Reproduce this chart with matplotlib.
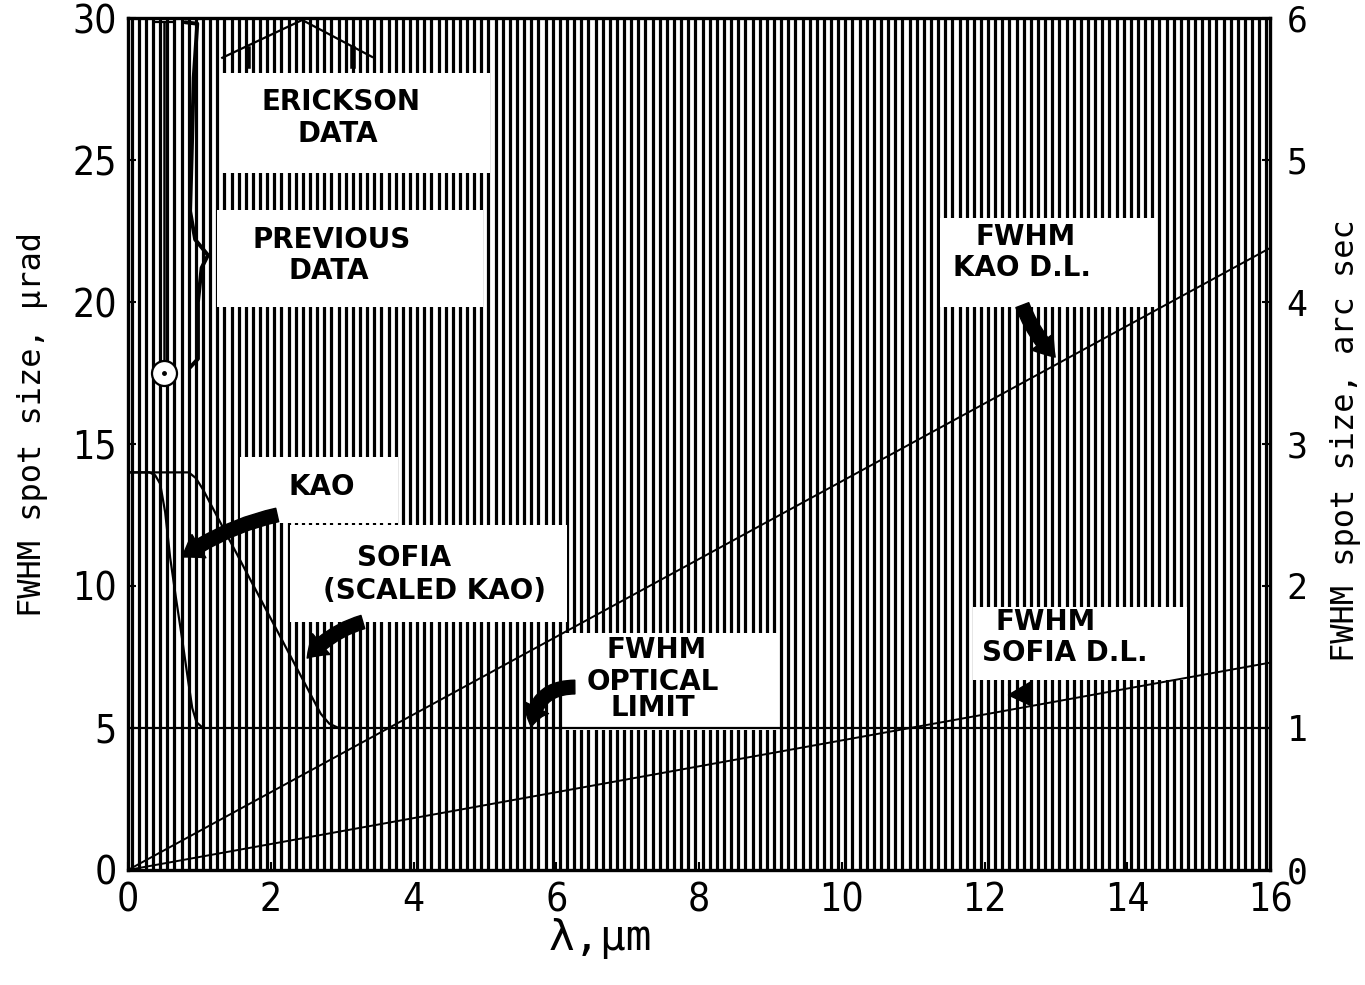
import numpy as np
import matplotlib
matplotlib.use("Agg")
import matplotlib.pyplot as plt
from matplotlib.patches import Rectangle

# diffraction limits (µrad) vs wavelength (µm)
dl_wavelength = [0, 16]
kao_dl = [0, 21.9]
sofia_dl = [0, 7.3]
optical_limit = 5.0

# measured KAO image size and SOFIA (scaled KAO)
kao_x = [0, 0.30, 0.38, 0.45, 0.52, 0.59, 0.67, 0.76, 0.84, 0.90, 0.96, 1.05]
kao_y = [14, 14, 13.9, 13.6, 12.6, 11.0, 9.6, 8.1, 6.7, 5.7, 5.2, 5.0]
sofia_x = [0, 0.85, 0.95, 1.05, 2.70, 2.82, 2.95, 3.05]
sofia_y = [14, 14, 13.8, 13.4, 5.5, 5.15, 5.0, 5.0]

# Erickson point with upper bar
erickson_x = 0.5
erickson_y = 17.5
erickson_top = 29.85

# annotation shapes
brace_x = [0.80, 0.97, 0.92, 0.89, 0.87, 0.94, 1.12, 1.03, 0.98, 0.98, 0.87]
brace_y = [29.85, 29.8, 27.9, 25.0, 23.2, 22.2, 21.65, 21.2, 20.0, 18.0, 17.7]
span_x = [1.32, 2.44, 3.42]
span_y = [28.6, 29.93, 28.63]
span_marks = [1.68, 3.15]

# label boxes: (x0, y0, x1, y1)
boxes = [
    (1.29, 24.54, 5.07, 28.06),
    (1.25, 19.82, 4.97, 23.24),
    (1.57, 12.22, 3.78, 14.54),
    (2.27, 8.73, 6.15, 12.15),
    (6.09, 4.93, 9.09, 8.35),
    (11.38, 19.82, 14.42, 22.96),
    (11.84, 6.69, 14.84, 9.26),
]
labels = [
    ("ERICKSON", 2.98, 27.06, "center"),
    ("DATA", 2.94, 25.9, "center"),
    ("PREVIOUS", 2.85, 22.18, "center"),
    ("DATA", 2.82, 21.09, "center"),
    ("KAO", 2.72, 13.49, "center"),
    ("SOFIA", 3.87, 10.97, "center"),
    ("(SCALED KAO)", 4.29, 9.82, "center"),
    ("FWHM", 7.40, 7.75, "center"),
    ("OPTICAL", 7.35, 6.62, "center"),
    ("LIMIT", 7.35, 5.70, "center"),
    ("FWHM", 11.87, 22.29, "left"),
    ("KAO D.L.", 11.56, 21.20, "left"),
    ("FWHM", 12.15, 8.73, "left"),
    ("SOFIA D.L.", 11.96, 7.64, "left"),
]
# arrows: (tail, head, curvature)
arrows = [
    ((2.09, 12.5), (0.76, 11.02), 0.1),
    ((3.29, 8.73), (2.51, 7.46), 0.15),
    ((6.26, 6.44), (5.65, 5.04), 0.45),
    ((12.53, 19.89), (12.99, 18.06), 0.1),
    ((12.50, 6.40), (12.64, 5.80), 0.0),
]

fig = plt.figure(figsize=(13.65, 9.85), dpi=100)
ax = fig.add_axes([0.0938, 0.1168, 0.8366, 0.8649])
ax.set_xlim(0, 16)
ax.set_ylim(0, 30)

# chart paper rulings
ax.vlines(np.arange(0.05, 16, 0.1), 0, 30, color="black", lw=2.3, zorder=1)

for x0, y0, x1, y1 in boxes:
    ax.add_patch(Rectangle((x0, y0), x1 - x0, y1 - y0, fc="white", ec="none", zorder=3))
for txt, x, y, ha in labels:
    ax.text(x, y, txt, ha=ha, va="center", fontsize=20, fontweight="bold",
            family="DejaVu Sans", zorder=4)

ax.plot(dl_wavelength, kao_dl, color="black", lw=1.4, zorder=5)
ax.plot(dl_wavelength, sofia_dl, color="black", lw=1.4, zorder=5)
ax.axhline(optical_limit, color="black", lw=1.6, zorder=5)
ax.plot(kao_x, kao_y, color="black", lw=1.6, zorder=5)
ax.plot(sofia_x, sofia_y, color="black", lw=1.6, zorder=5)

ax.errorbar(erickson_x, erickson_y, yerr=[[0], [erickson_top - erickson_y]],
            fmt="o", mfc="white", mec="black", ms=18, mew=1.6, ecolor="black",
            elinewidth=1.8, capsize=8, capthick=3, zorder=6)
ax.plot(erickson_x, erickson_y, ".", color="black", ms=5, zorder=7)

ax.plot(brace_x, brace_y, color="black", lw=2.8, zorder=5, solid_capstyle="round")
ax.plot(span_x, span_y, color="black", lw=1.6, zorder=5)
for mx in span_marks:
    ax.plot([mx, mx], [28.3, 28.9], color="black", lw=4, zorder=5)

for tail, head, rad in arrows:
    ax.annotate("", xy=head, xytext=tail, zorder=6,
                arrowprops=dict(arrowstyle="simple,head_length=0.55,head_width=0.75,tail_width=0.38",
                                color="black", connectionstyle=f"arc3,rad={rad}",
                                mutation_scale=26, shrinkA=0, shrinkB=0))

for s in ax.spines.values():
    s.set_linewidth(2.4)
    s.set_zorder(8)

ax.set_xticks(np.arange(0, 17, 2))
ax.set_yticks(np.arange(0, 31, 5))
ax.tick_params(direction="in", length=6, width=1.5, labelsize=28, pad=8)
for lab in ax.get_xticklabels() + ax.get_yticklabels():
    lab.set_family("DejaVu Sans")
    lab.set_fontstretch("condensed")

ax2 = ax.twinx()
ax2.set_ylim(0, 6)
ax2.set_yticks(np.arange(0, 7, 1))
ax2.tick_params(direction="in", length=6, width=1.5, labelsize=25, pad=12)
for lab in ax2.get_yticklabels():
    lab.set_family("DejaVu Sans Mono")
for s in ax2.spines.values():
    s.set_visible(False)

fig.text(0.024, 0.569, "FWHM spot size, μrad", rotation=90, ha="center", va="center",
         fontsize=23, family="DejaVu Sans Mono")
fig.text(0.986, 0.553, "FWHM spot size, arc sec", rotation=90, ha="center", va="center",
         fontsize=23, family="DejaVu Sans Mono")
fig.text(0.44, 0.048, "λ,μm", ha="center", va="center", fontsize=31, family="DejaVu Sans Mono")

fig.savefig("out.png", dpi=100, facecolor="white")
